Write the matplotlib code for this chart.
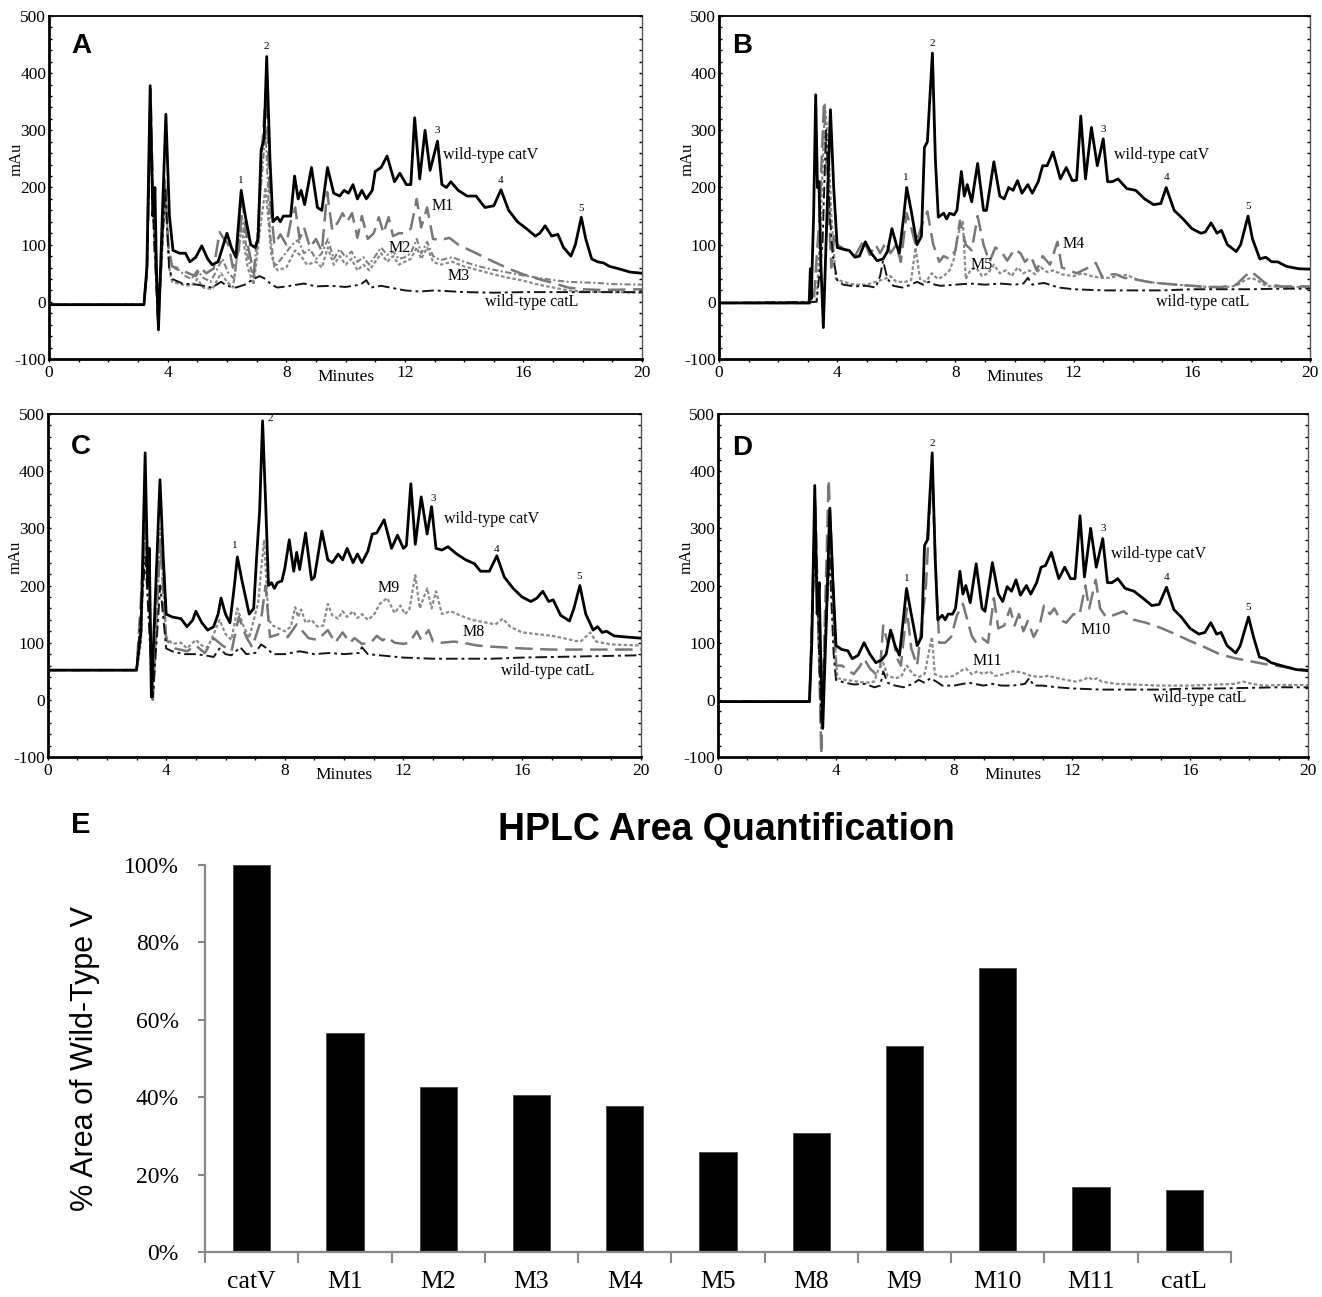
import matplotlib.pyplot as plt
from matplotlib.ticker import MultipleLocator

plt.rcParams['font.family'] = ['Liberation Serif', 'DejaVu Serif']
plt.rcParams['axes.unicode_minus'] = False
plt.rcParams['lines.solid_joinstyle'] = 'round'
plt.rcParams['lines.dash_joinstyle'] = 'round'
SANS = ['Liberation Sans', 'DejaVu Sans']

# ---- chromatogram traces, (minutes, mAu) ----
A_catV = [(0, -5), (3.2, -5), (3.3, 60), (3.41, 378), (3.5, 150), (3.57, 200), (3.62, 60), (3.69, -49),
          (3.82, 150), (3.94, 328), (4.06, 150), (4.18, 90), (4.4, 85), (4.6, 85), (4.75, 70), (4.95, 78),
          (5.15, 98), (5.35, 75), (5.5, 65), (5.7, 70), (5.85, 95), (6.0, 120), (6.15, 95), (6.3, 78),
          (6.48, 195), (6.62, 150), (6.8, 100), (6.95, 95), (7.05, 110), (7.15, 265), (7.25, 285), (7.34, 429),
          (7.45, 250), (7.55, 140), (7.7, 148), (7.8, 140), (7.9, 150), (8.05, 150), (8.15, 150), (8.28, 220),
          (8.4, 180), (8.5, 195), (8.62, 170), (8.85, 235), (9.05, 165), (9.2, 160), (9.39, 235), (9.6, 190),
          (9.8, 185), (9.95, 195), (10.1, 190), (10.25, 205), (10.4, 180), (10.55, 195), (10.7, 180), (10.9, 195),
          (11.0, 228), (11.2, 235), (11.4, 255), (11.65, 210), (11.83, 225), (12.05, 205), (12.2, 205), (12.33, 322),
          (12.5, 215), (12.68, 300), (12.85, 230), (13.1, 281), (13.25, 205), (13.4, 200), (13.55, 210), (13.8, 195),
          (14.1, 185), (14.4, 185), (14.7, 165), (15.0, 168), (15.24, 196), (15.5, 160), (15.8, 140), (16.1, 128),
          (16.4, 115), (16.55, 120), (16.73, 133), (16.95, 115), (17.16, 118), (17.35, 95), (17.6, 80), (17.75, 100),
          (17.95, 148), (18.1, 110), (18.3, 75), (18.5, 70), (18.7, 68), (18.9, 62), (19.2, 58), (19.6, 52), (20, 50)]
A_M1 = [(0, -5), (3.2, -5), (3.3, 60), (3.42, 372), (3.5, 200), (3.58, 120), (3.68, -40), (3.8, 80), (3.9, 220),
        (4.02, 100), (4.15, 62), (4.4, 58), (4.7, 50), (4.95, 45), (5.1, 60), (5.3, 50), (5.55, 58), (5.75, 122),
        (5.9, 110), (6.05, 100), (6.2, 60), (6.4, 90), (6.52, 175), (6.7, 100), (6.9, 50), (7.05, 120), (7.18, 265),
        (7.32, 372), (7.45, 180), (7.6, 100), (7.8, 118), (8.0, 100), (8.15, 140), (8.3, 165), (8.45, 110), (8.6, 130),
        (8.8, 95), (9.0, 110), (9.2, 88), (9.38, 192), (9.55, 125), (9.75, 140), (9.9, 155), (10.05, 140), (10.22, 155),
        (10.4, 112), (10.55, 150), (10.75, 110), (10.95, 120), (11.12, 148), (11.28, 120), (11.45, 148), (11.6, 115),
        (11.8, 120), (12.0, 120), (12.2, 128), (12.4, 180), (12.55, 130), (12.75, 165), (12.95, 110), (13.2, 108),
        (13.5, 112), (13.8, 100), (14.2, 90), (14.6, 80), (15.0, 70), (15.5, 58), (16.0, 48), (16.5, 40), (17.0, 33),
        (17.5, 25), (18.0, 22), (18.5, 21), (19.0, 21), (20, 22)]
A_M2 = [(0, -5), (3.2, -5), (3.3, 50), (3.42, 360), (3.52, 150), (3.68, -35), (3.85, 150), (3.92, 200), (4.05, 80),
        (4.15, 60), (4.4, 55), (4.6, 45), (4.8, 40), (5.0, 55), (5.2, 42), (5.45, 35), (5.7, 60), (5.85, 75),
        (6.05, 50), (6.25, 40), (6.5, 150), (6.7, 80), (6.9, 40), (7.1, 170), (7.3, 300), (7.45, 120), (7.6, 60),
        (7.9, 80), (8.2, 100), (8.4, 108), (8.6, 85), (8.8, 92), (9.0, 75), (9.2, 85), (9.4, 110), (9.6, 75),
        (9.8, 92), (10.0, 78), (10.2, 88), (10.4, 70), (10.6, 78), (10.8, 65), (11.0, 80), (11.2, 95), (11.4, 82),
        (11.6, 88), (11.8, 75), (12.0, 78), (12.2, 85), (12.4, 110), (12.55, 85), (12.75, 105), (12.95, 80),
        (13.2, 73), (13.6, 78), (14.0, 70), (14.5, 62), (15.0, 56), (15.5, 51), (16.0, 46), (16.5, 42), (17.0, 38),
        (17.5, 35), (18.0, 34), (18.5, 33), (19.0, 31), (20, 30)]
A_M3 = [(0, -5), (3.2, -5), (3.3, 50), (3.42, 340), (3.52, 140), (3.68, -30), (3.85, 130), (3.93, 180), (4.05, 60),
        (4.15, 35), (4.5, 30), (4.8, 28), (5.0, 40), (5.2, 25), (5.5, 22), (5.8, 50), (6.0, 35), (6.2, 25),
        (6.48, 130), (6.7, 60), (6.9, 30), (7.1, 120), (7.3, 200), (7.5, 80), (7.7, 55), (8.0, 60), (8.3, 90),
        (8.5, 80), (8.7, 65), (9.0, 70), (9.2, 60), (9.4, 95), (9.6, 65), (9.8, 80), (10.0, 65), (10.2, 75),
        (10.4, 55), (10.6, 65), (10.8, 55), (11.0, 70), (11.2, 85), (11.4, 70), (11.6, 80), (11.8, 65), (12.0, 70),
        (12.2, 75), (12.4, 95), (12.55, 75), (12.75, 95), (12.95, 70), (13.2, 65), (13.6, 70), (14.0, 62),
        (14.5, 55), (15.0, 48), (15.5, 42), (16.0, 37), (16.5, 30), (17.0, 25), (17.5, 20), (18.0, 18), (19.0, 17),
        (20, 16)]
A_catL = [(0, -5), (3.2, -5), (3.3, 50), (3.42, 300), (3.55, 100), (3.68, -40), (3.92, 200), (4.05, 60), (4.15, 40),
          (4.5, 32), (5.0, 30), (5.5, 25), (5.8, 35), (6.0, 28), (6.3, 25), (6.6, 30), (6.9, 40), (7.1, 45),
          (7.3, 40), (7.5, 30), (7.7, 25), (8.0, 27), (8.6, 32), (9.0, 27), (9.5, 28), (10.0, 26), (10.5, 30),
          (10.7, 38), (10.85, 25), (11.2, 28), (11.5, 25), (12.0, 20), (12.5, 18), (13.0, 20), (14.0, 17),
          (15.0, 16), (16.0, 17), (17.0, 17), (18.0, 17), (19.0, 17), (20, 17)]

B_catV = [(0, -2), (3.05, -2), (3.09, 58), (3.12, 5), (3.2, 150), (3.27, 362), (3.33, 200), (3.38, 210), (3.45, 60),
          (3.53, -45), (3.65, 150), (3.77, 336), (3.88, 200), (4.0, 95), (4.2, 92), (4.4, 90), (4.6, 78), (4.75, 80),
          (4.95, 105), (5.15, 85), (5.35, 72), (5.55, 75), (5.7, 88), (5.85, 128), (6.0, 100), (6.1, 85), (6.25, 150),
          (6.35, 200), (6.5, 160), (6.7, 100), (6.85, 115), (6.95, 270), (7.05, 280), (7.22, 435), (7.32, 250),
          (7.42, 148), (7.6, 155), (7.7, 145), (7.8, 155), (7.95, 152), (8.05, 160), (8.2, 228), (8.3, 185),
          (8.4, 205), (8.55, 175), (8.75, 242), (8.95, 160), (9.05, 160), (9.3, 245), (9.5, 185), (9.65, 180),
          (9.8, 200), (9.95, 195), (10.1, 212), (10.25, 190), (10.45, 205), (10.6, 190), (10.8, 210), (10.95, 238),
          (11.1, 238), (11.3, 262), (11.55, 215), (11.75, 235), (11.95, 212), (12.1, 213), (12.24, 325), (12.4, 215),
          (12.6, 305), (12.8, 238), (13.0, 285), (13.15, 210), (13.3, 210), (13.5, 215), (13.8, 198), (14.1, 195),
          (14.4, 180), (14.7, 170), (14.95, 172), (15.13, 200), (15.4, 160), (15.7, 145), (16.0, 128), (16.3, 120),
          (16.45, 122), (16.65, 138), (16.85, 120), (17.0, 125), (17.2, 100), (17.5, 88), (17.65, 100), (17.9, 150),
          (18.05, 110), (18.3, 75), (18.5, 78), (18.7, 70), (18.9, 70), (19.2, 62), (19.6, 58), (20, 57)]
B_M4 = [(0, -2), (3.2, -2), (3.4, 150), (3.55, 348), (3.68, 200), (3.8, 60), (3.9, 120), (4.0, 100), (4.3, 90),
        (4.6, 80), (4.9, 108), (5.1, 82), (5.3, 100), (5.45, 85), (5.65, 105), (5.8, 85), (6.0, 100), (6.15, 70),
        (6.35, 155), (6.5, 130), (6.65, 100), (6.9, 140), (7.05, 158), (7.25, 100), (7.45, 70), (7.6, 80),
        (7.8, 75), (8.0, 90), (8.15, 142), (8.35, 100), (8.55, 90), (8.75, 150), (8.95, 100), (9.15, 70),
        (9.35, 95), (9.55, 88), (9.75, 72), (10.0, 92), (10.2, 85), (10.35, 70), (10.55, 80), (10.75, 55),
        (10.95, 80), (11.2, 65), (11.45, 105), (11.6, 60), (11.85, 55), (12.1, 50), (12.3, 55), (12.5, 60),
        (12.75, 68), (12.95, 45), (13.2, 48), (13.45, 48), (13.7, 42), (14.0, 40), (14.5, 35), (15.0, 32),
        (15.5, 30), (16.0, 28), (16.5, 26), (17.0, 26), (17.5, 30), (17.8, 45), (18.0, 53), (18.2, 45),
        (18.5, 32), (19.0, 27), (20, 27)]
B_M5 = [(0, -2), (3.3, 0), (3.45, 150), (3.58, 345), (3.7, 280), (3.8, 150), (3.95, 40), (4.2, 35), (4.6, 30),
        (5.0, 30), (5.3, 35), (5.6, 40), (5.8, 45), (6.0, 35), (6.3, 35), (6.5, 38), (6.65, 95), (6.8, 40),
        (7.0, 35), (7.2, 50), (7.4, 40), (7.6, 45), (7.8, 55), (7.95, 75), (8.1, 120), (8.25, 140), (8.35, 40),
        (8.5, 55), (8.7, 60), (8.9, 45), (9.1, 50), (9.3, 65), (9.5, 50), (9.7, 55), (9.9, 45), (10.1, 60),
        (10.3, 50), (10.5, 55), (10.7, 48), (10.9, 60), (11.1, 52), (11.3, 55), (11.6, 48), (12.0, 45),
        (12.3, 50), (12.6, 45), (12.9, 42), (13.2, 42), (13.5, 45), (13.8, 47), (14.1, 40), (14.5, 35),
        (15.0, 32), (15.5, 30), (16.0, 28), (16.5, 26), (17.0, 25), (17.5, 28), (17.8, 38), (18.0, 42),
        (18.2, 38), (18.5, 28), (19.0, 26), (20, 26)]
B_catL = [(0, -2), (3.3, 0), (3.5, 100), (3.62, 300), (3.75, 150), (3.85, 80), (4.0, 38), (4.2, 30), (4.6, 27),
          (5.0, 28), (5.3, 25), (5.45, 45), (5.55, 72), (5.7, 40), (5.9, 28), (6.2, 25), (6.5, 30), (6.7, 35),
          (6.9, 30), (7.1, 35), (7.3, 30), (7.5, 28), (8.0, 30), (8.5, 32), (9.0, 30), (9.5, 32), (10.0, 30),
          (10.3, 32), (10.45, 42), (10.6, 30), (11.0, 33), (11.5, 25), (12.0, 22), (13.0, 20), (14.0, 20),
          (15.0, 20), (16.0, 22), (17.0, 22), (18.0, 22), (19.0, 23), (20, 23)]

C_catV = [(0, 52), (3.0, 52), (3.15, 120), (3.29, 432), (3.38, 200), (3.43, 265), (3.5, 5), (3.65, 200),
          (3.79, 385), (3.9, 250), (4.0, 150), (4.2, 145), (4.5, 142), (4.7, 128), (4.9, 140), (5.0, 155),
          (5.2, 135), (5.4, 122), (5.6, 128), (5.75, 150), (5.85, 178), (6.0, 150), (6.15, 135), (6.3, 200),
          (6.4, 250), (6.55, 210), (6.8, 150), (6.95, 160), (7.05, 250), (7.15, 330), (7.25, 488), (7.35, 350),
          (7.45, 200), (7.55, 205), (7.65, 195), (7.75, 205), (7.9, 208), (8.0, 230), (8.15, 280), (8.3, 225),
          (8.4, 258), (8.5, 228), (8.7, 292), (8.9, 210), (9.0, 215), (9.25, 295), (9.45, 245), (9.6, 240),
          (9.8, 255), (9.95, 245), (10.1, 265), (10.3, 240), (10.45, 255), (10.6, 240), (10.8, 260), (10.95, 290),
          (11.1, 292), (11.35, 315), (11.6, 265), (11.8, 288), (12.0, 265), (12.1, 270), (12.25, 378), (12.4, 272),
          (12.6, 355), (12.8, 290), (12.95, 338), (13.1, 265), (13.3, 262), (13.5, 268), (13.8, 255), (14.1, 245),
          (14.4, 238), (14.6, 225), (14.9, 225), (15.15, 252), (15.4, 215), (15.7, 195), (16.0, 180), (16.3, 172),
          (16.5, 178), (16.7, 190), (16.9, 172), (17.05, 175), (17.3, 148), (17.6, 138), (17.75, 160), (17.95, 200),
          (18.15, 150), (18.4, 122), (18.55, 128), (18.7, 118), (18.85, 120), (19.1, 112), (19.5, 110), (20, 108)]
C_M9 = [(0, 52), (3.0, 52), (3.15, 100), (3.3, 350), (3.42, 200), (3.5, 5), (3.65, 100), (3.8, 300), (4.0, 110),
        (4.2, 98), (4.5, 100), (4.7, 90), (5.0, 105), (5.2, 95), (5.4, 92), (5.6, 115), (5.8, 140), (6.0, 115),
        (6.2, 105), (6.4, 160), (6.6, 130), (6.8, 108), (7.1, 170), (7.3, 280), (7.45, 140), (7.6, 130),
        (7.8, 125), (8.0, 120), (8.2, 128), (8.35, 162), (8.45, 145), (8.55, 158), (8.7, 135), (8.9, 140),
        (9.1, 128), (9.3, 130), (9.45, 168), (9.6, 148), (9.8, 142), (9.95, 155), (10.1, 145), (10.3, 155),
        (10.45, 143), (10.6, 150), (10.8, 140), (11.0, 148), (11.2, 168), (11.45, 178), (11.7, 152), (11.9, 165),
        (12.05, 150), (12.2, 158), (12.4, 218), (12.55, 160), (12.8, 195), (12.95, 160), (13.1, 190), (13.3, 150),
        (13.6, 155), (13.9, 148), (14.3, 140), (14.8, 135), (15.1, 132), (15.35, 142), (15.6, 128), (16.0, 118),
        (16.5, 115), (17.0, 112), (17.4, 108), (17.8, 103), (18.0, 103), (18.3, 118), (18.5, 102), (19.0, 97),
        (20, 95)]
C_M8 = [(0, 52), (3.0, 52), (3.3, 300), (3.45, 150), (3.55, 0), (3.8, 280), (4.0, 105), (4.3, 90), (4.7, 85),
        (5.0, 95), (5.3, 82), (5.6, 108), (5.9, 95), (6.2, 85), (6.45, 145), (6.7, 110), (6.9, 92), (7.2, 140),
        (7.35, 200), (7.5, 110), (7.8, 115), (8.1, 110), (8.4, 132), (8.6, 120), (8.8, 108), (9.1, 105),
        (9.45, 122), (9.7, 100), (9.95, 118), (10.2, 100), (10.35, 108), (10.6, 98), (10.9, 100), (11.1, 112),
        (11.3, 104), (11.45, 110), (11.7, 100), (12.0, 98), (12.2, 100), (12.45, 120), (12.6, 105), (12.85, 122),
        (13.0, 102), (13.3, 100), (13.7, 102), (14.0, 100), (14.5, 95), (15.0, 93), (16.0, 90), (17.0, 88),
        (18.0, 88), (19.0, 88), (20, 88)]
C_catL = [(0, 52), (3.0, 52), (3.3, 250), (3.45, 100), (3.55, 5), (3.8, 200), (4.0, 90), (4.2, 85), (4.6, 80),
          (5.0, 80), (5.3, 78), (5.6, 75), (5.8, 90), (6.0, 80), (6.2, 78), (6.5, 92), (6.7, 80), (7.0, 82),
          (7.2, 97), (7.4, 90), (7.6, 80), (8.0, 80), (8.5, 85), (9.0, 80), (9.5, 82), (10.0, 80), (10.5, 82),
          (10.6, 92), (10.8, 80), (11.2, 78), (12.0, 74), (13.0, 72), (14.0, 72), (15.0, 72), (16.0, 74),
          (17.0, 75), (18.0, 76), (19.0, 77), (20, 78)]

D_catV = [(0, -3), (3.1, -3), (3.18, 100), (3.28, 375), (3.36, 150), (3.43, 205), (3.48, 80), (3.55, -50),
          (3.68, 150), (3.79, 335), (3.9, 200), (4.0, 95), (4.2, 88), (4.4, 86), (4.55, 72), (4.75, 78),
          (4.95, 100), (5.15, 80), (5.35, 65), (5.55, 70), (5.7, 80), (5.85, 122), (6.0, 95), (6.15, 78),
          (6.28, 140), (6.39, 195), (6.55, 150), (6.75, 95), (6.9, 110), (7.0, 270), (7.1, 280), (7.26, 432),
          (7.36, 250), (7.45, 140), (7.6, 148), (7.7, 140), (7.8, 150), (7.95, 150), (8.05, 160), (8.2, 225),
          (8.3, 185), (8.4, 200), (8.55, 170), (8.75, 238), (8.95, 160), (9.05, 155), (9.3, 240), (9.5, 185),
          (9.65, 172), (9.8, 198), (9.95, 190), (10.1, 210), (10.25, 183), (10.45, 200), (10.6, 185), (10.8, 205),
          (10.95, 232), (11.1, 235), (11.3, 258), (11.55, 212), (11.75, 232), (11.95, 212), (12.1, 212),
          (12.27, 322), (12.42, 215), (12.63, 300), (12.82, 232), (13.04, 282), (13.2, 205), (13.35, 205),
          (13.55, 212), (13.8, 195), (14.1, 190), (14.4, 178), (14.7, 165), (14.95, 167), (15.2, 197),
          (15.45, 158), (15.7, 145), (16.0, 125), (16.3, 115), (16.5, 118), (16.7, 135), (16.9, 115), (17.05, 118),
          (17.25, 95), (17.55, 82), (17.7, 95), (17.98, 145), (18.15, 110), (18.35, 75), (18.55, 72), (18.75, 65),
          (18.95, 62), (19.3, 57), (19.6, 53), (20, 51)]
D_M10 = [(0, -3), (3.1, -3), (3.3, 350), (3.5, -95), (3.75, 385), (3.95, 150), (4.0, 60), (4.2, 60), (4.4, 52),
         (4.6, 45), (4.8, 58), (4.95, 72), (5.15, 55), (5.35, 45), (5.5, 58), (5.6, 130), (5.75, 100), (5.9, 120),
         (6.05, 75), (6.2, 60), (6.4, 160), (6.55, 90), (6.75, 60), (7.05, 200), (7.25, 410), (7.4, 200),
         (7.5, 100), (7.7, 100), (7.9, 110), (8.1, 148), (8.3, 168), (8.45, 140), (8.6, 112), (8.75, 100),
         (8.95, 108), (9.15, 100), (9.35, 178), (9.5, 125), (9.7, 130), (9.9, 160), (10.05, 130), (10.2, 150),
         (10.35, 120), (10.5, 138), (10.7, 110), (10.9, 130), (11.05, 165), (11.25, 150), (11.4, 160), (11.6, 140),
         (11.8, 135), (12.05, 150), (12.25, 148), (12.45, 200), (12.58, 160), (12.8, 210), (12.95, 160),
         (13.15, 145), (13.4, 148), (13.75, 155), (14.1, 140), (14.5, 135), (15.0, 126), (15.5, 115), (16.0, 103),
         (16.5, 92), (17.0, 80), (17.5, 73), (18.0, 68), (18.5, 63), (19.0, 59), (19.5, 55), (20, 52)]
D_M11 = [(0, -3), (3.1, -3), (3.3, 330), (3.5, -50), (3.78, 320), (3.95, 100), (4.05, 38), (4.3, 35), (4.6, 33),
         (5.0, 30), (5.3, 32), (5.45, 55), (5.6, 65), (5.75, 42), (6.0, 38), (6.2, 40), (6.4, 60), (6.6, 45),
         (6.8, 40), (7.0, 45), (7.25, 110), (7.35, 45), (7.6, 40), (8.0, 42), (8.2, 50), (8.4, 55), (8.6, 45),
         (8.8, 50), (9.0, 45), (9.2, 50), (9.4, 42), (9.7, 45), (10.0, 50), (10.3, 48), (10.6, 42), (10.9, 40),
         (11.2, 42), (11.5, 38), (11.8, 35), (12.1, 32), (12.4, 35), (12.55, 40), (12.7, 35), (12.85, 38),
         (13.0, 32), (13.5, 28), (14.0, 27), (15.0, 25), (16.0, 25), (17.0, 27), (17.5, 28), (17.8, 32),
         (18.1, 28), (18.5, 25), (19.0, 26), (20, 26)]
D_catL = [(0, -3), (3.1, -3), (3.3, 300), (3.5, -40), (3.78, 250), (3.92, 80), (4.0, 35), (4.3, 30), (4.6, 27),
          (5.0, 28), (5.3, 22), (5.5, 25), (5.6, 50), (5.75, 30), (6.0, 25), (6.3, 22), (6.6, 28), (6.8, 35),
          (7.0, 30), (7.2, 38), (7.4, 32), (7.6, 25), (8.0, 25), (8.5, 30), (9.0, 25), (9.3, 28), (9.6, 25),
          (10.0, 25), (10.4, 28), (10.55, 38), (10.7, 25), (11.0, 25), (11.5, 22), (12.0, 20), (13.0, 18),
          (14.0, 18), (15.0, 18), (16.0, 20), (17.0, 20), (18.0, 21), (19.0, 22), (20, 22)]

# ---- bar chart (panel E) ----
bar_labels = ['catV', 'M1', 'M2', 'M3', 'M4', 'M5', 'M8', 'M9', 'M10', 'M11', 'catL']
bar_values = [100, 56.5, 42.6, 40.5, 37.8, 25.8, 30.7, 53.1, 73.3, 16.7, 16.1]

styles = {
    'catV': dict(color='black', lw=2.0, ls='-', zorder=5),
    'catL': dict(color='#151515', lw=1.4, ls=(0, (6, 2, 1.5, 2)), zorder=4),
    'dash': dict(color='#777777', lw=1.8, ls=(0, (7, 3)), zorder=3),
    'dot': dict(color='#8a8a8a', lw=1.6, ls=(0, (1.6, 1.0)), zorder=3),
    'dot2': dict(color='#808080', lw=1.5, ls=(0, (3, 1.2, 1, 1.2)), zorder=3),
}

fig = plt.figure(figsize=(13.22, 12.97), dpi=100)


def chromatogram(rect, letter, letter_xy, traces, labels, peaks):
    ax = fig.add_axes(rect)
    for data, st in traces:
        t, y = zip(*data)
        ax.plot(t, y, **styles[st])
    ax.set_xlim(0, 20)
    ax.set_ylim(-100, 500)
    ax.xaxis.set_major_locator(MultipleLocator(4))
    ax.xaxis.set_minor_locator(MultipleLocator(1))
    ax.yaxis.set_major_locator(MultipleLocator(100))
    ax.yaxis.set_minor_locator(MultipleLocator(20))
    ax.tick_params(axis='x', which='both', direction='out', length=2, width=1, labelsize=12.5, pad=2)
    ax.tick_params(axis='y', which='both', direction='in', length=2.5, width=1, labelsize=12.5, pad=2,
                   right=True)
    for s in ['left', 'bottom']:
        ax.spines[s].set_linewidth(2.0)
    ax.spines['top'].set_linewidth(1.3)
    ax.spines['right'].set_linewidth(1.0)
    ax.spines['right'].set_color('#555555')
    ax.text(0.5, -0.052, 'Minutes', transform=ax.transAxes, ha='center', va='center', fontsize=12.5)
    ax.text(-0.054, 0.583, 'mAu', transform=ax.transAxes, ha='center', va='center', rotation=90, fontsize=12)
    ax.text(letter_xy[0], letter_xy[1], letter, family=SANS, fontweight='bold', fontsize=20,
            ha='center', va='center')
    for txt, x, y in labels:
        ax.text(x, y, txt, fontsize=11.5, ha='left', va='center', zorder=6)
    for txt, x, y in peaks:
        ax.text(x, y, txt, fontsize=8, ha='center', va='center', zorder=6)
    return ax


peak_ids = ['1', '2', '3', '4', '5']

chromatogram([0.0371, 0.7232, 0.4486, 0.2645], 'A', (1.1, 448),
             [(A_M3, 'dot'), (A_M2, 'dot2'), (A_M1, 'dash'), (A_catL, 'catL'), (A_catV, 'catV')],
             [('wild-type catV', 13.3, 256), ('M1', 12.9, 168), ('M2', 11.45, 94), ('M3', 13.45, 46),
              ('wild-type catL', 14.7, 0)],
             list(zip(peak_ids, [6.48, 7.34, 13.1, 15.24, 17.95], [213, 446, 300, 212, 163])))

chromatogram([0.5439, 0.7232, 0.4471, 0.2645], 'B', (0.78, 448),
             [(B_M5, 'dot'), (B_M4, 'dash'), (B_catL, 'catL'), (B_catV, 'catV')],
             [('wild-type catV', 13.38, 256), ('M4', 11.64, 101), ('M5', 8.5, 64),
              ('wild-type catL', 14.77, 0)],
             list(zip(peak_ids, [6.33, 7.22, 13.0, 15.13, 17.9], [217, 452, 302, 217, 167])))

chromatogram([0.036, 0.4163, 0.4486, 0.2645], 'C', (1.13, 443),
             [(C_M9, 'dot'), (C_M8, 'dash'), (C_catL, 'catL'), (C_catV, 'catV')],
             [('wild-type catV', 13.37, 316), ('M9', 11.13, 196), ('M8', 14.0, 118),
              ('wild-type catL', 15.3, 51)],
             list(zip(peak_ids, [6.33, 7.5, 13.0, 15.15, 17.94], [270, 492, 352, 263, 215])))

chromatogram([0.5431, 0.4163, 0.4464, 0.2645], 'D', (0.83, 440),
             [(D_M11, 'dot'), (D_M10, 'dash'), (D_catL, 'catL'), (D_catV, 'catV')],
             [('wild-type catV', 13.33, 255), ('M10', 12.3, 122), ('M11', 8.62, 68),
              ('wild-type catL', 14.75, 3)],
             list(zip(peak_ids, [6.39, 7.26, 13.04, 15.2, 17.98], [212, 448, 300, 214, 162])))

# ---- panel E ----
axe = fig.add_axes([0.1551, 0.0347, 0.776, 0.2984])
pos = list(range(len(bar_labels)))
axe.bar(pos, bar_values, width=0.4, color='black', edgecolor='#444444', linewidth=0.6)
axe.set_xlim(-0.5, len(bar_labels) - 0.5)
axe.set_ylim(0, 100)
axe.yaxis.set_major_locator(MultipleLocator(20))
axe.yaxis.set_major_formatter(lambda v, p: f'{v:.0f}%')
axe.set_xticks([p - 0.5 for p in pos] + [len(bar_labels) - 0.5])
axe.set_xticklabels([])
axe.set_xticks(pos, minor=True)
axe.set_xticklabels(bar_labels, minor=True, fontsize=18.5)
axe.tick_params(axis='x', which='major', length=8, width=1.5, color='#888888')
axe.tick_params(axis='x', which='minor', length=0, pad=14)
axe.tick_params(axis='y', length=5, width=1.5, color='#888888', labelsize=17, pad=14)
for s in ['top', 'right']:
    axe.spines[s].set_visible(False)
for s in ['left', 'bottom']:
    axe.spines[s].set_color('#888888')
    axe.spines[s].set_linewidth(1.6)
axe.set_ylabel('% Area of Wild-Type V', family=SANS, fontsize=22)
axe.yaxis.set_label_coords(-0.102, 0.5)

fig.text(726 / 1322, 1 - 830 / 1297, 'HPLC Area Quantification', family=SANS, fontweight='bold',
         fontsize=27, ha='center', va='center')
fig.text(81 / 1322, 1 - 825 / 1297, 'E', family=SANS, fontweight='bold', fontsize=21,
         ha='center', va='center')

fig.savefig('out.png', dpi=100)
